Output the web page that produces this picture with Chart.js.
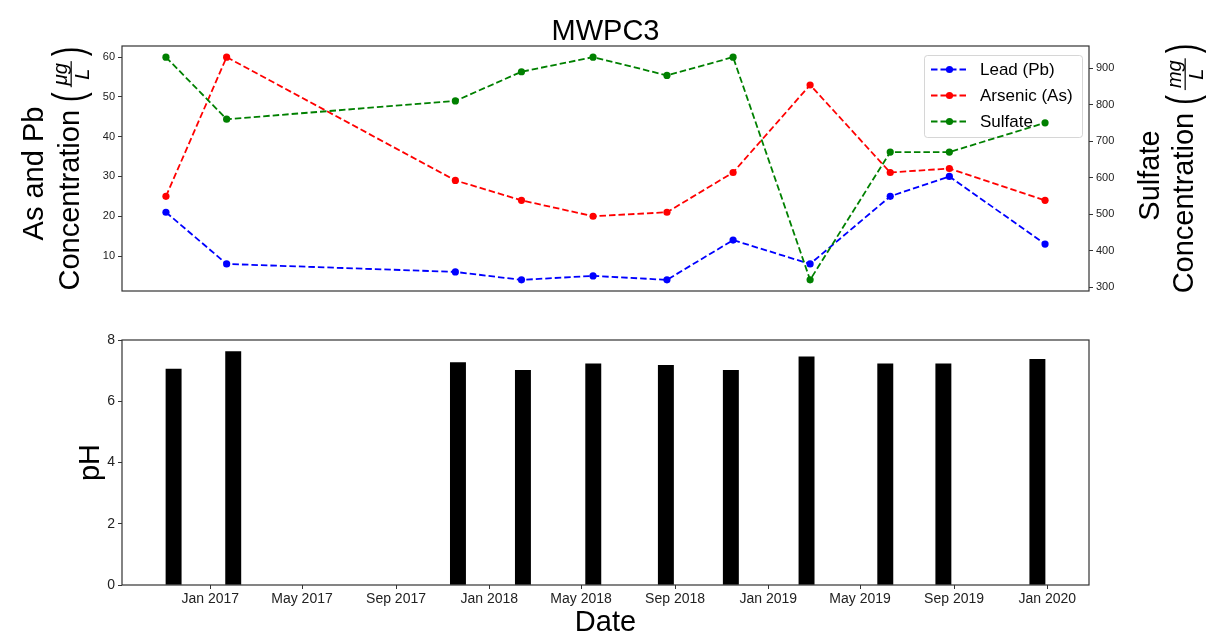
<!DOCTYPE html>
<html>
<head>
<meta charset="utf-8">
<script src="https://cdn.jsdelivr.net/npm/chart.js@4.4.0/dist/chart.umd.min.js"></script>
<style>
  html, body { margin: 0; padding: 0; background: #fff; }
  #wrap { position: relative; width: 1207px; height: 634px; }
  #wrap canvas { position: absolute; left: 0; }
  #chart-top { top: 0; }
  #chart-ph  { top: 310px; }
</style>
</head>
<body>
<div id="wrap">
  <canvas id="chart-top" width="1207" height="310" style="width:1207px;height:310px"></canvas>
  <canvas id="chart-ph"  width="1207" height="324" style="width:1207px;height:324px"></canvas>
</div>
<script>
// ------------------------------------------------------------
// MWPC3 — metals / sulfate (top) and pH (bottom)
// ------------------------------------------------------------

const SAMPLE_DATES = [
  '2016-11-14','2017-01-31','2017-11-21','2018-02-14','2018-05-17','2018-08-20',
  '2018-11-13','2019-02-20','2019-06-03','2019-08-18','2019-12-19',
];
const LEAD_PB    = [21, 8, 6, 4, 5, 4, 14, 8, 25, 30, 13];
const ARSENIC_AS = [25, 60, 29, 24, 20, 21, 31, 53, 31, 32, 24];
const SULFATE    = [930, 760, 810, 890, 930, 880, 930, 320, 670, 670, 750];
const PH         = [7.05, 7.62, 7.26, 7.01, 7.22, 7.17, 7.01, 7.45, 7.22, 7.22, 7.37];

const DATE_TICKS  = ['2017-01-01','2017-05-01','2017-09-01','2018-01-01','2018-05-01',
                     '2018-09-01','2019-01-01','2019-05-01','2019-09-01','2020-01-01'];
const DATE_LABELS = ['Jan 2017','May 2017','Sep 2017','Jan 2018','May 2018',
                     'Sep 2018','Jan 2019','May 2019','Sep 2019','Jan 2020'];
const METAL_TICKS   = [10, 20, 30, 40, 50, 60];
const SULFATE_TICKS = [300, 400, 500, 600, 700, 800, 900];
const PH_TICKS      = [0, 2, 4, 6, 8];

const FONT      = '"Liberation Sans", Arial, sans-serif';
const LABEL_PX  = 29;
const TICK_CLR  = '#222';
const FRAME_CLR = '#333';
const PLOT_L = 122, PLOT_R = 1089;        // shared plot area, px
const BAR_DAYS = 20;

const toDay = s => Date.UTC(+s.slice(0, 4), +s.slice(5, 7) - 1, +s.slice(8, 10)) / 86400000;
const days  = SAMPLE_DATES.map(toDay);
const tickDays = DATE_TICKS.map(toDay);

// matplotlib-like 5% margins
function padRange(lo, hi, m = 0.05) { const s = hi - lo; return [lo - s * m, hi + s * m]; }
const [topMin, topMax] = padRange(days[0], days[days.length - 1]);
const [botMin, botMax] = padRange(days[0] - BAR_DAYS / 2, days[days.length - 1] + BAR_DAYS / 2);
const [metMin, metMax] = padRange(Math.min(...LEAD_PB, ...ARSENIC_AS), Math.max(...LEAD_PB, ...ARSENIC_AS));
const [sulMin, sulMax] = padRange(Math.min(...SULFATE), Math.max(...SULFATE));

const pts = vals => vals.map((v, i) => ({ x: days[i], y: v }));
const fixTicks = list => scale => { scale.ticks = list.map(v => ({ value: v })); };

function tickMarks() {
  return { display: true, offset: false, drawOnChartArea: false, drawTicks: true,
           tickLength: 4, color: FRAME_CLR, lineWidth: 1 };
}

function lineSet(label, data, color, axis, order) {
  return {
    label, data, yAxisID: axis, order,
    borderColor: color, backgroundColor: color,
    borderWidth: 1.8, borderDash: [6.5, 3],
    pointRadius: 3.6, pointBorderWidth: 0, pointBackgroundColor: color,
    tension: 0, fill: false,
  };
}

// ---- drawing helpers ---------------------------------------------------
function drawFrame(chart) {
  const { ctx, chartArea: a } = chart;
  ctx.save();
  ctx.strokeStyle = FRAME_CLR;
  ctx.lineWidth = 1.2;
  ctx.strokeRect(a.left, a.top, a.right - a.left, a.bottom - a.top);
  ctx.restore();
}

function rotated(ctx, x, y, fn) {
  ctx.save();
  ctx.translate(x, y);
  ctx.rotate(-Math.PI / 2);
  fn(ctx);
  ctx.restore();
}

// "Concentration (num/den)" with a stacked fraction, written bottom-to-top
function drawConcLabel(ctx, baseX, centerY, num, den) {
  rotated(ctx, baseX, centerY, c => {
    c.fillStyle = '#000';
    c.textBaseline = 'alphabetic';
    c.textAlign = 'left';
    const mainFont = `${LABEL_PX}px ${FONT}`;
    const fracFont = `italic ${Math.round(LABEL_PX * 0.7)}px ${FONT}`;
    c.font = mainFont;
    const main = 'Concentration ';
    const wMain = c.measureText(main).width;
    const wParen = c.measureText('(').width + 3;
    c.font = fracFont;
    const wFrac = Math.max(c.measureText(num).width, c.measureText(den).width) + 8;
    const total = wMain + wParen * 2 + wFrac;
    let u = -total / 2;
    const axisV = -LABEL_PX * 0.27;

    c.font = mainFont;
    c.fillText(main, u, 0); u += wMain;
    const paren = (ch, dx) => {
      c.save();
      c.translate(u + dx, axisV);
      c.scale(1, 1.5);
      c.fillText(ch, 0, -axisV);
      c.restore();
      u += wParen;
    };
    paren('(', 0);
    c.font = fracFont;
    c.textAlign = 'center';
    const mid = u + wFrac / 2;
    c.fillText(num, mid, axisV - 4);
    c.fillText(den, mid, axisV + 3 + LABEL_PX * 0.7 * 0.72);
    c.fillRect(u + 2, axisV - 0.6, wFrac - 4, 1.2);
    u += wFrac;
    c.textAlign = 'left';
    c.font = mainFont;
    paren(')', 3);
  });
}

function drawLegend(chart) {
  const { ctx } = chart;
  const sets = chart.data.datasets;
  ctx.save();
  ctx.beginPath();
  ctx.roundRect(924.5, 55.5, 158, 82, 3);
  ctx.fillStyle = 'rgba(255,255,255,0.8)';
  ctx.fill();
  ctx.strokeStyle = 'rgba(204,204,204,0.8)';
  ctx.lineWidth = 1;
  ctx.stroke();
  ctx.font = `17px ${FONT}`;
  ctx.textBaseline = 'middle';
  ctx.textAlign = 'left';
  sets.forEach((ds, i) => {
    const ry = 69.5 + i * 26;
    ctx.strokeStyle = ds.borderColor;
    ctx.lineWidth = 1.8;
    ctx.setLineDash([6.5, 3]);
    ctx.beginPath();
    ctx.moveTo(931, ry);
    ctx.lineTo(968, ry);
    ctx.stroke();
    ctx.setLineDash([]);
    ctx.fillStyle = ds.borderColor;
    ctx.beginPath();
    ctx.arc(949.5, ry, 3.6, 0, Math.PI * 2);
    ctx.fill();
    ctx.fillStyle = '#000';
    ctx.fillText(ds.label, 980, ry + 1);
  });
  ctx.restore();
}

// ---- top: metals + sulfate ---------------------------------------------
const topDecor = {
  id: 'topDecor',
  afterDatasetDraw(chart, args) {
    if (args.index === 1) drawLegend(chart);   // legend sits on the left-axis layer
  },
  afterDraw(chart) {
    const { ctx } = chart;
    drawFrame(chart);
    ctx.save();
    ctx.fillStyle = '#000';
    ctx.font = `${LABEL_PX}px ${FONT}`;
    ctx.textAlign = 'center';
    ctx.textBaseline = 'alphabetic';
    ctx.fillText('MWPC3', (PLOT_L + PLOT_R) / 2, 40);
    const cy = (chart.chartArea.top + chart.chartArea.bottom) / 2;
    rotated(ctx, 43, cy + 5, c => {
      c.font = `${LABEL_PX}px ${FONT}`;
      c.textAlign = 'center';
      c.fillText('As and Pb', 0, 0);
    });
    drawConcLabel(ctx, 79, cy, 'μg', 'L');
    rotated(ctx, 1159, cy + 7, c => {
      c.font = `${LABEL_PX}px ${FONT}`;
      c.textAlign = 'center';
      c.fillText('Sulfate', 0, 0);
    });
    drawConcLabel(ctx, 1193, cy, 'mg', 'L');
    ctx.restore();
  },
};

new Chart(document.getElementById('chart-top'), {
  type: 'line',
  data: {
    datasets: [
      lineSet('Lead (Pb)',    pts(LEAD_PB),    '#0000ff', 'y',  2),
      lineSet('Arsenic (As)', pts(ARSENIC_AS), '#ff0000', 'y',  1),
      lineSet('Sulfate',      pts(SULFATE),    '#008000', 'y2', 0),
    ],
  },
  options: {
    responsive: false,
    animation: false,
    layout: { padding: { top: 46, bottom: 19, left: 0, right: 0 } },
    plugins: { legend: { display: false }, tooltip: { enabled: false } },
    scales: {
      x: { type: 'linear', min: topMin, max: topMax, display: false },
      y: {
        position: 'left', min: metMin, max: metMax,
        afterBuildTicks: fixTicks(METAL_TICKS),
        afterFit: s => { s.width = PLOT_L; },
        grid: tickMarks(), border: { display: false },
        ticks: { color: TICK_CLR, font: { family: FONT, size: 11 }, padding: 3 },
      },
      y2: {
        position: 'right', min: sulMin, max: sulMax,
        afterBuildTicks: fixTicks(SULFATE_TICKS),
        afterFit: s => { s.width = 1207 - PLOT_R; },
        grid: tickMarks(), border: { display: false },
        ticks: { color: TICK_CLR, font: { family: FONT, size: 11 }, padding: 3 },
      },
    },
  },
  plugins: [topDecor],
});

// ---- bottom: pH bars ---------------------------------------------------
const phDecor = {
  id: 'phDecor',
  afterDraw(chart) {
    const { ctx, chartArea: a } = chart;
    drawFrame(chart);
    ctx.save();
    ctx.fillStyle = '#000';
    ctx.font = `${LABEL_PX}px ${FONT}`;
    ctx.textBaseline = 'alphabetic';
    ctx.textAlign = 'center';
    ctx.fillText('Date', (PLOT_L + PLOT_R) / 2, 321);
    rotated(ctx, 99, (a.top + a.bottom) / 2, c => {
      c.font = `${LABEL_PX}px ${FONT}`;
      c.textAlign = 'center';
      c.fillText('pH', 0, 0);
    });
    ctx.restore();
  },
};

new Chart(document.getElementById('chart-ph'), {
  type: 'bar',
  data: {
    datasets: [{
      label: 'pH',
      data: pts(PH),
      backgroundColor: '#000',
      borderColor: '#000',
      borderWidth: 0,
      barThickness: BAR_DAYS * (PLOT_R - PLOT_L) / (botMax - botMin),
    }],
  },
  options: {
    responsive: false,
    animation: false,
    layout: { padding: { top: 30, bottom: 0, left: 0, right: 1207 - PLOT_R } },
    plugins: { legend: { display: false }, tooltip: { enabled: false } },
    scales: {
      x: {
        type: 'linear', min: botMin, max: botMax, offset: false,
        afterBuildTicks: fixTicks(tickDays),
        afterFit: s => { s.height = 49; },
        grid: tickMarks(), border: { display: false },
        ticks: {
          color: TICK_CLR, font: { family: FONT, size: 14 }, padding: 2, maxRotation: 0, autoSkip: false,
          callback: v => DATE_LABELS[tickDays.indexOf(v)] ?? '',
        },
      },
      y: {
        min: 0, max: 8,
        afterBuildTicks: fixTicks(PH_TICKS),
        afterFit: s => { s.width = PLOT_L; },
        grid: tickMarks(), border: { display: false },
        ticks: { color: TICK_CLR, font: { family: FONT, size: 14 }, padding: 3 },
      },
    },
  },
  plugins: [phDecor],
});
</script>
</body>
</html>
